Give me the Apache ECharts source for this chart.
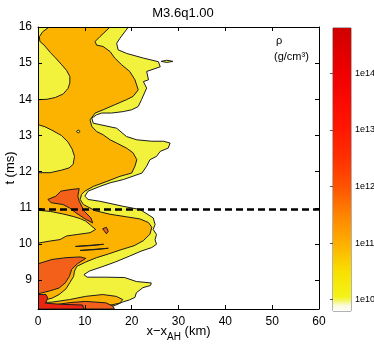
<!DOCTYPE html>
<html>
<head>
<meta charset="utf-8">
<script src="https://cdn.jsdelivr.net/npm/echarts@6/dist/echarts.min.js"></script>
<style>
  html, body { margin: 0; padding: 0; background: #fff; }
  #chart { width: 374px; height: 346px; }
</style>
</head>
<body>
<div id="chart"></div>
<script>
// contour regions, points are [x - x_AH (km), t (ms)]
const yellowMain = [[0,16],[19.3,16],[17.5,15.69],[16.8,15.55],[17.1,15.37],[18.9,15.27],[22.5,15.14],[25.7,15.04],[26.1,14.9],[23.2,14.77],[23.6,14.54],[22.5,14.49],[23.2,14.31],[22.1,13.99],[21.4,13.8],[20.0,13.71],[18.2,13.66],[15.7,13.62],[13.6,13.62],[12.5,13.57],[11.5,13.48],[11.8,13.34],[13.2,13.3],[16.8,13.2],[18.9,12.97],[21.1,12.88],[24.3,12.84],[26.8,12.84],[28.2,12.79],[27.8,12.65],[26.1,12.56],[25.3,12.42],[23.9,12.33],[23.2,12.15],[22.2,11.96],[18.2,11.78],[15.4,11.69],[13.2,11.59],[10.7,11.46],[10.0,11.32],[10.7,11.23],[13.2,11.18],[18.2,11.04],[21.8,10.95],[24.6,10.72],[25.0,10.54],[24.6,10.4],[25.3,10.26],[25.0,10.12],[25.3,9.99],[24.3,9.9],[22,9.8],[19.5,9.66],[16.5,9.5],[13.5,9.36],[11,9.25],[9.8,9.15],[10.5,9.08],[14.5,9.08],[18.5,9.07],[21,8.96],[24.2,8.92],[24,8.85],[22.4,8.79],[21,8.65],[20.7,8.52],[19.5,8.45],[18.2,8.4],[16.5,8.3],[15,8.25],[14,8.2],[0,8.2]];
const yellowSpeck = [[26.3,15.05],[27.5,15.08],[28.8,15.05],[27.5,15.02]];

const orangeMain = [[0,16],[15.4,16],[13.2,15.73],[12.2,15.6],[12.5,15.5],[13.9,15.46],[15.4,15.32],[16.4,15.14],[17.9,14.95],[19.6,14.77],[20.7,14.54],[21.4,14.26],[20.3,14.08],[18.9,13.99],[16.4,13.85],[13.9,13.71],[12.2,13.62],[11.1,13.43],[11.5,13.25],[12.5,13.11],[13.9,13.02],[15.4,12.88],[16.8,12.79],[18.9,12.65],[20.3,12.52],[21.1,12.33],[20.7,12.15],[20.0,11.96],[17.5,11.87],[14.7,11.73],[11.8,11.59],[10.0,11.46],[9.3,11.37],[9.0,11.23],[9.7,11.09],[12.2,10.92],[15.4,10.82],[18.9,10.75],[21.8,10.69],[23.6,10.59],[24.3,10.46],[23.9,10.27],[22.5,10.09],[20.5,9.95],[17.5,9.83],[15,9.72],[12.5,9.62],[10.2,9.5],[8.3,9.38],[7.8,9.25],[7.6,9.1],[6.8,8.93],[6,8.76],[4.5,8.6],[3,8.5],[1.5,8.45],[0,8.43]];
const orangeLow = [[0,8.2],[0,8.38],[3,8.39],[6.7,8.46],[10.2,8.55],[13.8,8.6],[16.7,8.55],[18.1,8.46],[17.4,8.36],[15.2,8.3],[12.4,8.24],[11.5,8.2]];

const yellowTopLeft = [[0,16],[2.4,16],[1.0,15.87],[0.3,15.73],[0.4,15.6],[1.3,15.5],[2.6,15.3],[3.7,15.15],[5.1,14.95],[6.1,14.8],[6.8,14.63],[6.8,14.45],[6.4,14.3],[5.4,14.15],[3.7,14.05],[1.9,14.0],[0,13.99]];
const yellowMidLeft = [[0,13.3],[1.5,13.24],[2.9,13.15],[5,13.0],[6.4,12.82],[7.3,12.62],[7.8,12.42],[7.5,12.2],[6.6,12.1],[5,12.04],[2.6,11.97],[0,11.97]];
const yellowDot = [[8.2,13.11],[8.6,13.15],[9.0,13.11],[8.6,13.07]];
const yellowLeft = [[0,10.93],[2.6,10.9],[5.3,10.83],[7.5,10.76],[9,10.7],[10.2,10.63],[11.2,10.52],[12.3,10.4],[11.1,10.31],[8.3,10.26],[6.1,10.22],[4.7,10.12],[2.6,10.08],[0.4,10.03],[0,10.03]];

const redOrangePatch = [[2.1,11.23],[3.8,11.32],[4.9,11.46],[6.7,11.5],[8.8,11.53],[8.5,11.32],[8.8,11.18],[9.9,10.9],[11.3,10.72],[11.7,10.58],[10.2,10.68],[8.1,10.86],[6.7,11.0],[5.3,11.09],[2.8,11.14]];
const redOrangeBig = [[0,9.45],[3,9.57],[6,9.62],[9,9.64],[10.2,9.6],[8.5,9.46],[7.2,9.3],[6.7,9.1],[5.8,8.92],[4.5,8.78],[2.5,8.7],[0,8.62]];
const redOrangeLow = [[0,8.2],[0,8.32],[3.8,8.32],[7,8.38],[10.2,8.41],[14.5,8.37],[16,8.28],[16.3,8.2]];
const redOrangeStreakA = [[8,9.93],[11,9.96],[14,9.99],[11,9.95]];
const redOrangeStreakB = [[9,9.82],[12,9.85],[15,9.88],[12,9.84]];
const redOrangeBlob = [[13.8,10.42],[14.6,10.46],[15,10.35],[14.6,10.28],[14.2,10.35]];

const redLow = [[0,8.2],[0,8.6],[1.7,8.6],[2.1,8.5],[1.6,8.36],[5,8.33],[9.5,8.31],[9.8,8.2]];

const markerT = 10.95;           // dashed line
const xRange = [0, 60];
const tRange = [8.2, 16];
const logRhoRange = [9.8, 14.8];  // colour bar, log10 rho

const fills = {
  yellow: '#f2f23c',
  orange: '#fcb300',
  redOrange: '#f2601a',
  red: '#ec2412',
};

// painted in order, later regions on top
const layers = [
  [yellowMain, 'yellow'], [yellowSpeck, 'yellow'],
  [orangeMain, 'orange'], [orangeLow, 'orange'],
  [yellowTopLeft, 'yellow'], [yellowMidLeft, 'yellow'], [yellowDot, 'yellow'], [yellowLeft, 'yellow'],
  [redOrangeBig, 'redOrange'], [redOrangeLow, 'redOrange'], [redOrangePatch, 'redOrange'],
  [redOrangeStreakA, 'redOrange'], [redOrangeStreakB, 'redOrange'], [redOrangeBlob, 'redOrange'],
  [redLow, 'red'],
];

const font = 'Liberation Sans, Arial, sans-serif';

const chart = echarts.init(document.getElementById('chart'));

function regionSeries(pts, color) {
  return {
    type: 'custom',
    xAxisIndex: 0,
    yAxisIndex: 0,
    clip: true,
    silent: true,
    data: pts,
    renderItem: (params, api) => {
      if (params.dataIndex !== 0) return null;
      return {
        type: 'polygon',
        shape: { points: pts.map((p) => api.coord(p)) },
        style: { fill: color, stroke: '#1c1c1c', lineWidth: 1 },
      };
    },
  };
}

const cbStops = [
  [9.8, '#ffffff'], [9.9, '#fbfbd8'], [9.97, '#f6f67a'], [10.05, '#f3f318'],
  [10.5, '#f8e000'], [11.0, '#ffae00'], [11.5, '#ff8400'], [12.0, '#ff5200'],
  [12.5, '#ff3000'], [13.0, '#ff1800'], [13.5, '#fa0a00'], [14.0, '#f00000'], [14.8, '#d00000'],
];

const colorBar = {
  type: 'custom',
  xAxisIndex: 2,
  yAxisIndex: 2,
  silent: true,
  data: [[0, logRhoRange[0]]],
  renderItem: (params, api) => {
    const a = api.coord([0, logRhoRange[0]]);
    const b = api.coord([1, logRhoRange[1]]);
    const span = logRhoRange[1] - logRhoRange[0];
    return {
      type: 'rect',
      shape: { x: a[0], y: b[1], width: b[0] - a[0], height: a[1] - b[1] },
      style: {
        fill: new echarts.graphic.LinearGradient(0, 1, 0, 0,
          cbStops.map(([v, c]) => ({ offset: (v - logRhoRange[0]) / span, color: c }))),
      },
    };
  },
};

const boxAxis = {
  axisLine: { show: true, onZero: false, lineStyle: { color: '#000', width: 1 } },
  axisTick: { show: true, inside: true, length: 4, lineStyle: { color: '#000' } },
  splitLine: { show: false },
  z: 10,
};

const option = {
  animation: false,
  backgroundColor: '#fff',
  textStyle: { fontFamily: font },
  title: {
    text: 'M3.6q1.00',
    left: 178,
    top: 2,
    textAlign: 'center',
    textStyle: { fontSize: 13, fontWeight: 'normal', color: '#000', fontFamily: font },
  },
  grid: [
    { left: 38, top: 27, width: 281, height: 282, outerBoundsMode: 'none' },
    { left: 333, top: 28, width: 18, height: 283, show: true, borderColor: '#666', borderWidth: 1,
      backgroundColor: 'transparent', outerBoundsMode: 'none' },
  ],
  xAxis: [
    {
      ...boxAxis, gridIndex: 0, type: 'value', position: 'bottom',
      min: xRange[0], max: xRange[1], interval: 10,
      axisLabel: { color: '#000', fontSize: 12, margin: 7, fontFamily: font },
      name: '{a|x\u2212x}{s|AH}{a| (km)}',
      nameLocation: 'middle',
      nameGap: 16,
      nameMoveOverlap: false,
      nameTextStyle: {
        color: '#000',
        rich: {
          a: { fontSize: 13, fontFamily: font, color: '#000', padding: [0, 0, 4, 0], verticalAlign: 'bottom' },
          s: { fontSize: 10, fontFamily: font, color: '#000', verticalAlign: 'bottom' },
        },
      },
    },
    {
      ...boxAxis, gridIndex: 0, type: 'value', position: 'top',
      min: xRange[0], max: xRange[1], interval: 10,
      axisLabel: { show: false },
    },
    { gridIndex: 1, type: 'value', min: 0, max: 1, show: false },
  ],
  yAxis: [
    {
      ...boxAxis, gridIndex: 0, type: 'value', position: 'left',
      min: tRange[0], max: tRange[1], minInterval: 1, maxInterval: 1,
      axisLabel: { color: '#000', fontSize: 12, margin: 6, fontFamily: font, showMinLabel: false },
      name: 't (ms)',
      nameLocation: 'middle',
      nameRotate: 90,
      nameGap: 21,
      nameMoveOverlap: false,
      nameTextStyle: { color: '#000', fontSize: 13, fontFamily: font },
    },
    {
      ...boxAxis, gridIndex: 0, type: 'value', position: 'right',
      min: tRange[0], max: tRange[1], minInterval: 1, maxInterval: 1,
      axisLabel: { show: false },
    },
    {
      gridIndex: 1, type: 'value', position: 'right',
      min: logRhoRange[0], max: logRhoRange[1], minInterval: 1, maxInterval: 1,
      axisLine: { show: false },
      axisTick: { show: true, inside: true, length: 3, lineStyle: { color: '#555' } },
      splitLine: { show: false },
      axisLabel: {
        color: '#000', fontSize: 9, margin: 4, fontFamily: font,
        showMinLabel: false, showMaxLabel: false,
        formatter: (v) => '1e' + v,
      },
      z: 10,
    },
  ],
  graphic: [
    { type: 'text', left: 276, top: 35, style: { text: '\u03c1', fontSize: 11, fontFamily: font, fill: '#000' } },
    { type: 'text', left: 274, top: 51, style: { text: '(g/cm\u00b3)', fontSize: 11, fontFamily: font, fill: '#000' } },
  ],
  series: [
    ...layers.map(([pts, key]) => regionSeries(pts, fills[key])),
    {
      type: 'line',
      xAxisIndex: 0,
      yAxisIndex: 0,
      data: [[xRange[0], markerT], [xRange[1], markerT]],
      symbol: 'none',
      silent: true,
      lineStyle: { color: '#000', width: 2.5, type: [7, 4] },
      z: 5,
    },
    colorBar,
  ],
};

chart.setOption(option);
</script>
</body>
</html>
